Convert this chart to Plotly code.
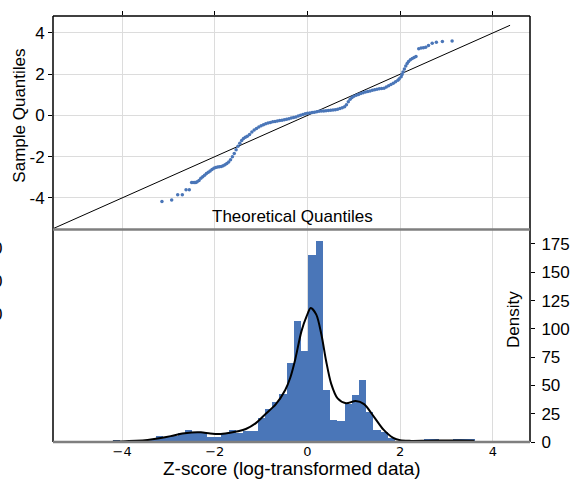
import plotly.graph_objects as go

# ---------------- data ----------------
# QQ plot: theoretical quantiles vs sample quantiles
qq_theoretical = [
    -3.14, -2.93, -2.80, -2.70, -2.62, -2.55, -2.50, -2.47, -2.44, -2.41,
    -2.38, -2.34, -2.30, -2.26, -2.22, -2.18, -2.14, -2.10, -2.06, -2.02,
    -1.98, -1.94, -1.90, -1.86, -1.82, -1.78, -1.74, -1.70, -1.66, -1.62,
    -1.58, -1.54, -1.50, -1.46, -1.42, -1.38, -1.34, -1.30, -1.25, -1.20,
    -1.15, -1.10, -1.05, -1.00, -0.95, -0.90, -0.85, -0.80, -0.75, -0.70,
    -0.65, -0.60, -0.55, -0.50, -0.45, -0.40, -0.35, -0.30, -0.25, -0.20,
    -0.15, -0.10, -0.05, 0.00, 0.05, 0.10, 0.15, 0.20, 0.25, 0.30,
    0.35, 0.40, 0.45, 0.50, 0.55, 0.60, 0.65, 0.70, 0.75, 0.80,
    0.84, 0.88, 0.92, 0.96, 1.00, 1.05, 1.10, 1.15, 1.20, 1.25,
    1.30, 1.35, 1.40, 1.45, 1.50, 1.55, 1.60, 1.65, 1.70, 1.75,
    1.80, 1.85, 1.90, 1.95, 1.98, 2.02, 2.04, 2.06, 2.09, 2.12,
    2.15, 2.18, 2.22, 2.26, 2.30, 2.34, 2.40, 2.45, 2.50, 2.55,
    2.61, 2.69, 2.78, 2.91, 3.12,
]
qq_sample = [
    -4.17, -4.10, -3.84, -3.84, -3.60, -3.60, -3.25, -3.25, -3.25, -3.25,
    -3.22, -3.15, -3.05, -2.97, -2.90, -2.82, -2.76, -2.69, -2.62, -2.56,
    -2.52, -2.50, -2.49, -2.48, -2.44, -2.39, -2.33, -2.26, -2.15, -2.00,
    -1.84, -1.66, -1.49, -1.35, -1.22, -1.12, -1.06, -1.01, -0.92, -0.80,
    -0.71, -0.63, -0.56, -0.50, -0.45, -0.40, -0.37, -0.34, -0.31, -0.29,
    -0.27, -0.25, -0.23, -0.21, -0.19, -0.16, -0.13, -0.10, -0.07, -0.03,
    0.01, 0.05, 0.08, 0.10, 0.12, 0.14, 0.16, 0.18, 0.20, 0.21,
    0.22, 0.23, 0.24, 0.25, 0.26, 0.28, 0.30, 0.33, 0.37, 0.42,
    0.52, 0.66, 0.79, 0.87, 0.93, 0.98, 1.02, 1.06, 1.10, 1.13,
    1.16, 1.19, 1.22, 1.25, 1.27, 1.29, 1.30, 1.32, 1.38, 1.44,
    1.50, 1.56, 1.63, 1.71, 1.78, 1.87, 1.98, 2.11, 2.25, 2.40,
    2.52, 2.62, 2.70, 2.76, 2.81, 2.86, 3.23, 3.27, 3.28, 3.30,
    3.39, 3.50, 3.55, 3.58, 3.61,
]
ref_line_x = [-5.6, 4.37]
ref_line_y = [-5.6, 4.37]

# Histogram: 50 bins
hist_start = -4.20
hist_bin_width = 0.1562
hist_counts = [
    2, 1, 1, 1, 2, 3, 6, 5, 6, 8,
    11, 9, 9, 5, 5, 8, 11, 8, 10, 10,
    22, 30, 36, 43, 70, 107, 81, 166, 178, 46,
    20, 19, 34, 42, 55, 27, 11, 9, 4, 1,
    1, 0, 1, 3, 3, 1, 2, 3, 3, 3,
]

# KDE curve (scaled to the count axis)
kde_x = [-4.20, -4.0, -3.7, -3.45, -3.2, -2.95, -2.7, -2.5, -2.3, -2.1,
         -1.9, -1.7, -1.5, -1.33, -1.12, -0.9, -0.69, -0.48, -0.37, -0.27,
         -0.13, -0.02, 0.07, 0.19, 0.30, 0.40, 0.51, 0.65, 0.83, 1.04,
         1.22, 1.43, 1.64, 1.85, 2.0, 2.2, 2.6, 3.0, 3.3, 3.6]
kde_y = [0.5, 0.5, 1.0, 1.8, 3.3, 5.2, 7.5, 8.5, 8.6, 7.5,
         7.0, 8.0, 9.5, 11.5, 16.5, 25, 33, 46, 57, 72,
         98, 111, 118.4, 112.6, 95, 72, 51.6, 38.5, 34.2, 36.2,
         33.5, 22.5, 10.9, 3.6, 1.5, 1.0, 1.2, 1.3, 1.3, 1.2]

x_ticks = [-4, -2, 0, 2, 4]
x_ticktext = ["\u22124", "\u22122", "0", "2", "4"]
qq_y_ticks = [-4, -2, 0, 2, 4]
qq_y_ticktext = ["-4", "-2", "0", "2", "4"]
hist_y_ticks = [0, 25, 50, 75, 100, 125, 150, 175]
left_cut_labels = ["0", "0", "0"]
left_cut_label_y = [0.4548, 0.3775, 0.2997]

# ---------------- figure ----------------
BLUE = "#4a76b8"
FONT = "Liberation Sans, Arial, sans-serif"
GRID = "#dcdcdc"
split = 0.4988

fig = go.Figure()

bin_centers = [hist_start + (i + 0.5) * hist_bin_width for i in range(len(hist_counts))]
fig.add_trace(go.Bar(x=bin_centers, y=hist_counts, width=hist_bin_width,
                     marker=dict(color=BLUE, line=dict(width=0)),
                     xaxis="x", yaxis="y", showlegend=False))
fig.add_trace(go.Scatter(x=kde_x, y=kde_y, mode="lines",
                         line=dict(color="black", width=2, shape="spline", smoothing=0.8),
                         xaxis="x", yaxis="y", showlegend=False))
fig.add_trace(go.Scatter(x=ref_line_x, y=ref_line_y, mode="lines",
                         line=dict(color="black", width=1),
                         xaxis="x2", yaxis="y2", showlegend=False))
fig.add_trace(go.Scatter(x=qq_theoretical, y=qq_sample, mode="markers",
                         marker=dict(color=BLUE, size=3.5, line=dict(width=0)),
                         xaxis="x2", yaxis="y2", showlegend=False))

fig.update_layout(
    width=582, height=483,
    margin=dict(l=53, r=42, t=12, b=41),
    plot_bgcolor="white", paper_bgcolor="white",
    font=dict(family=FONT, color="black"),
    bargap=0,
    xaxis=dict(domain=[0, 1], anchor="y", range=[-5.49, 4.80],
               tickvals=x_ticks, ticktext=x_ticktext,
               tickfont=dict(family="DejaVu Sans", size=13),
               showgrid=True, gridcolor=GRID, gridwidth=1,
               zeroline=False, showline=False, ticks=""),
    yaxis=dict(domain=[0, split], anchor="x", side="right", range=[0, 187.8],
               tickvals=hist_y_ticks, ticks="outside", ticklen=4, tickcolor="black",
               ticklabelstandoff=3,
               tickfont=dict(size=17), showgrid=False, zeroline=False, showline=False),
    xaxis2=dict(domain=[0, 1], anchor="y2", range=[-5.49, 4.80], side="top",
                tickvals=x_ticks, showticklabels=False, ticks="outside", ticklen=4,
                tickcolor="black", showgrid=True, gridcolor=GRID, gridwidth=1,
                zeroline=False, showline=False),
    yaxis2=dict(domain=[split, 1], anchor="x2", range=[-5.53, 4.82],
                tickvals=qq_y_ticks, ticktext=qq_y_ticktext, ticks="outside", ticklen=4,
                tickcolor="black", tickfont=dict(size=17),
                showgrid=True, gridcolor=GRID, gridwidth=1,
                zeroline=False, showline=False),
)

shapes = []
def line(x0, y0, x1, y1, color, width):
    shapes.append(dict(type="line", xref="paper", yref="paper", x0=x0, y0=y0, x1=x1, y1=y1,
                       line=dict(color=color, width=width), layer="above"))

line(0, 1, 1, 1, "black", 1.5)
line(0, 0, 0, 1, "black", 1.5)
line(1, 0, 1, 1, "black", 1.5)
line(0, split, 1, split, "#7f7f7f", 2.5)
line(0, 0, 1, 0, "#7f7f7f", 2.5)
fig.update_layout(shapes=shapes)

ann = [
    dict(text="Sample Quantiles", x=-0.0708, y=0.7666, textangle=-90, font=dict(size=17)),
    dict(text="Theoretical Quantiles", x=0.503, y=0.5285, font=dict(size=17)),
    dict(text="Density", x=0.967, y=0.2869, textangle=-90, font=dict(size=17)),
    dict(text="Z-score (log-transformed data)", x=0.501, y=-0.0625, font=dict(size=19)),
]
for t, yy in zip(left_cut_labels, left_cut_label_y):
    ann.append(dict(text=t, x=(3 - 53) / 487, y=yy, xanchor="right", font=dict(size=17)))
for a in ann:
    a.update(xref="paper", yref="paper", showarrow=False)
    a.setdefault("xanchor", "center")
    a.setdefault("yanchor", "middle")
fig.update_layout(annotations=ann)

fig.write_html("out.html")
